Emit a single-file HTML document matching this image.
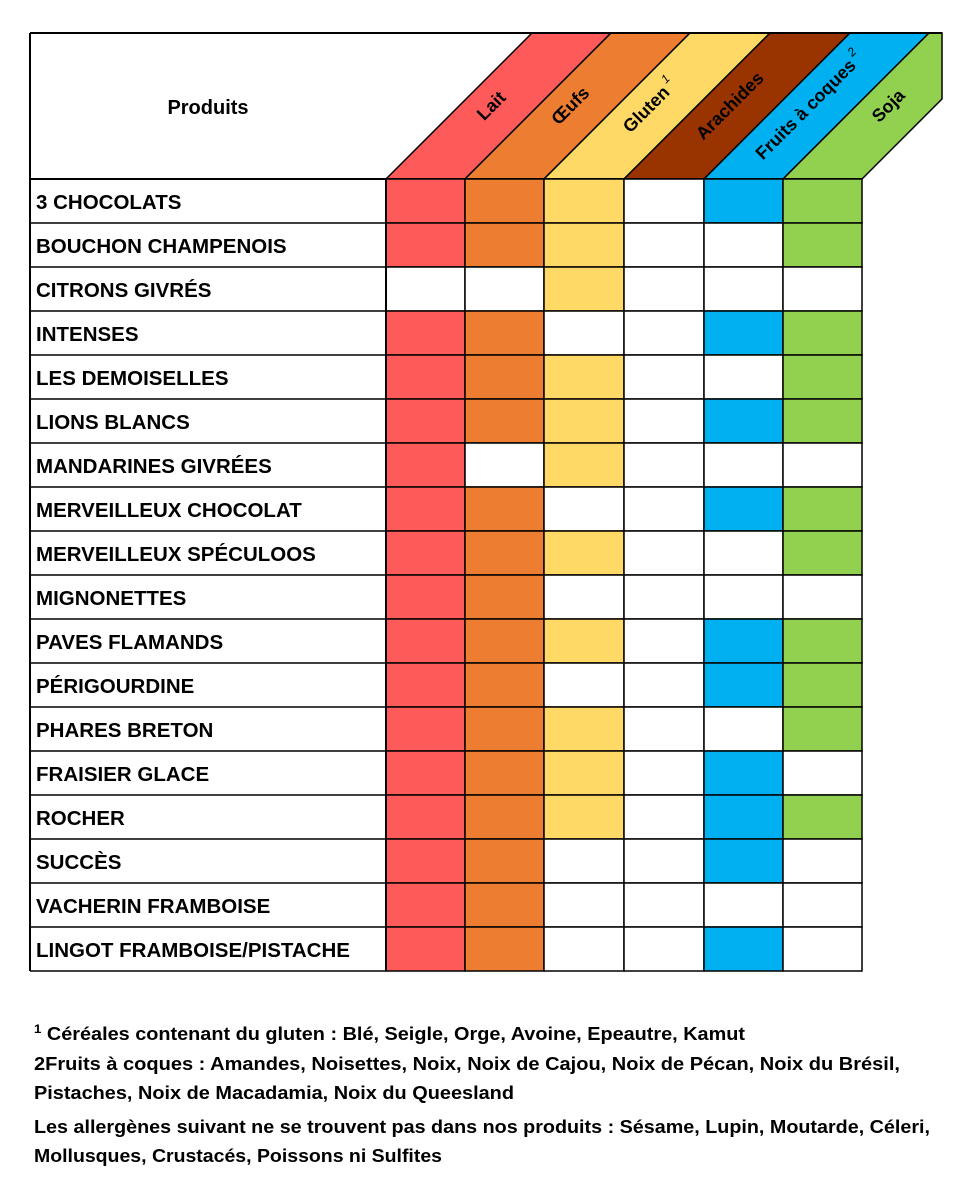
<!DOCTYPE html>
<html><head><meta charset="utf-8"><style>
html,body{margin:0;padding:0;background:#fff;}
svg{display:block;}
text{font-family:"Liberation Sans",sans-serif;font-weight:bold;fill:#000;}
</style></head><body>
<svg id="s" width="962" height="1204" xmlns="http://www.w3.org/2000/svg"></svg>
<script>
(function(){
var s=document.getElementById('s');
var h='';
var X=[386,465,544,624,704,783,862];
var C=['#FF5A5A','#ED7D31','#FFD966','#993300','#00B0F0','#92D050'];
var names=['Lait','Œufs','Gluten','Arachides','Fruits à coques','Soja'];
var sup=['','','1','','2',''];
var rows=[
['3 CHOCOLATS','LOG-FS'],['BOUCHON CHAMPENOIS','LOG--S'],['CITRONS GIVRÉS','--G---'],
['INTENSES','LO--FS'],['LES DEMOISELLES','LOG--S'],['LIONS BLANCS','LOG-FS'],
['MANDARINES GIVRÉES','L-G---'],['MERVEILLEUX CHOCOLAT','LO--FS'],['MERVEILLEUX SPÉCULOOS','LOG--S'],
['MIGNONETTES','LO----'],['PAVES FLAMANDS','LOG-FS'],['PÉRIGOURDINE','LO--FS'],
['PHARES BRETON','LOG--S'],['FRAISIER GLACE','LOG-F-'],['ROCHER','LOG-FS'],
['SUCCÈS','LO--F-'],['VACHERIN FRAMBOISE','LO----'],['LINGOT FRAMBOISE/PISTACHE','LO--F-']];
var T=33,hb=179,rh=44,D=146;
for(var i=0;i<6;i++){
 var a=X[i],b=X[i+1];
 if(i<5) h+='<polygon points="'+a+','+hb+' '+b+','+hb+' '+(b+D)+','+T+' '+(a+D)+','+T+'" fill="'+C[i]+'" stroke="#000" stroke-width="1.5"/>';
 else h+='<polygon points="'+a+','+hb+' '+b+','+hb+' 942,99 942,'+T+' '+(a+D)+','+T+'" fill="'+C[i]+'" stroke="#000" stroke-width="1.5"/>';
 var cx=(a+b)/2+70, cy=110;
 h+='<text transform="translate('+cx+','+cy+') rotate(-45)" text-anchor="middle" font-size="18">'+names[i]+(sup[i]?'<tspan font-size="12" dy="-10" font-style="italic" font-weight="normal"> '+sup[i]+'</tspan>':'')+'</text>';
}
h+='<line x1="30" y1="'+T+'" x2="942" y2="'+T+'" stroke="#000" stroke-width="2"/>';
h+='<line x1="30" y1="'+T+'" x2="30" y2="971" stroke="#000" stroke-width="2"/>';
h+='<line x1="30" y1="'+hb+'" x2="862" y2="'+hb+'" stroke="#000" stroke-width="2"/>';
h+='<text x="208" y="114" text-anchor="middle" font-size="20">Produits</text>';
rows.forEach(function(r,j){
 var y=hb+j*rh;
 for(var i=0;i<6;i++){
  var f=r[1][i]!=='-'?C[i]:'#fff';
  h+='<rect x="'+X[i]+'" y="'+y+'" width="'+(X[i+1]-X[i])+'" height="'+rh+'" fill="'+f+'" stroke="#000" stroke-width="1.5"/>';
 }
 h+='<line x1="30" y1="'+(y+rh)+'" x2="386" y2="'+(y+rh)+'" stroke="#000" stroke-width="1.5"/>';
 h+='<text x="36" y="'+(y+30)+'" font-size="20.5">'+r[0]+'</text>';
});
h+='<line x1="386" y1="'+hb+'" x2="386" y2="971" stroke="#000" stroke-width="2"/>';
var fn=[[1040,'<tspan font-size="12" dy="-7">1</tspan><tspan dy="7"> Céréales contenant du gluten : Blé, Seigle, Orge, Avoine, Epeautre, Kamut</tspan>',745],
[1070,'2Fruits à coques : Amandes, Noisettes, Noix, Noix de Cajou, Noix de Pécan, Noix du Brésil,',900],
[1099,'Pistaches, Noix de Macadamia, Noix du Queesland',514],
[1133,'Les allergènes suivant ne se trouvent pas dans nos produits : Sésame, Lupin, Moutarde, Céleri,',930],
[1162,'Mollusques, Crustacés, Poissons ni  Sulfites',442]];
fn.forEach(function(f){h+='<text x="34" y="'+f[0]+'" font-size="18" textLength="'+(f[2]-34)+'" lengthAdjust="spacingAndGlyphs">'+f[1]+'</text>';});
s.innerHTML=h;
})();
</script>
</body></html>
